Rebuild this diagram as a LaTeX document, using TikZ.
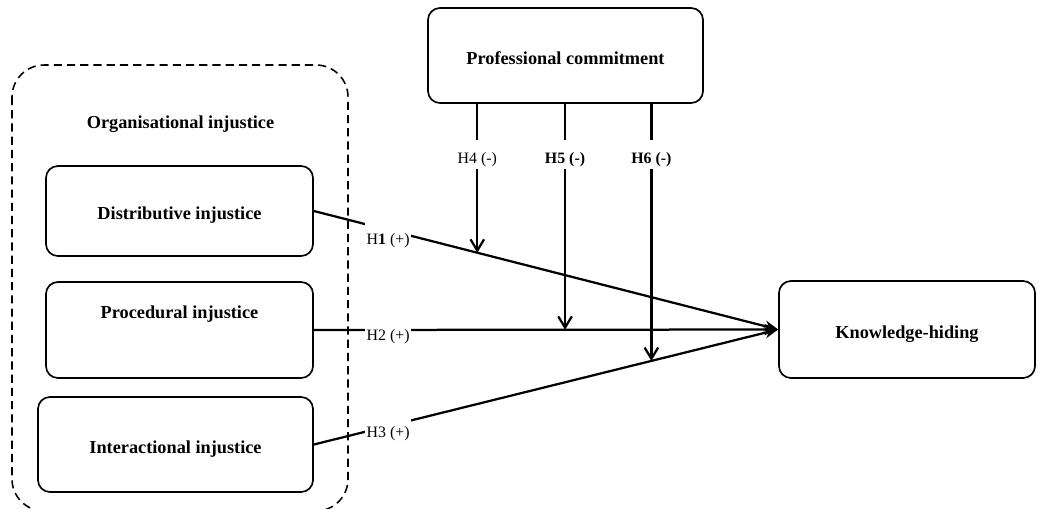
\documentclass[tikz,border=0pt]{standalone}
\usepackage{fontspec}
\setmainfont{Liberation Serif}
\usetikzlibrary{arrows.meta, positioning, calc}

\begin{document}
\begin{tikzpicture}[
    x=0.025cm, y=-0.025cm,
    box/.style={rectangle, rounded corners=0.3cm, draw=black, line width=1.2pt, font=\fontsize{13}{15}\selectfont\bfseries, align=center, text height=16pt, text depth=3.3pt},
    boxtext/.style={font=\fontsize{13}{15}\selectfont\bfseries, text height=16pt, text depth=3.3pt},
    group/.style={draw=black, line width=1.1pt, dash pattern=on 5.8pt off 3.6pt, rounded corners=0.8cm},
    edge/.style={-{Stealth[length=0.34cm, width=0.28cm]}, line width=1.6pt},
    mod/.style={-{Straight Barb[length=0.28cm, width=0.34cm]}, line width=1.6pt},
    lab/.style={fill=white, inner sep=1pt, font=\fontsize{11.3}{13}\selectfont, text height=0.55cm, text depth=0.1cm, anchor=base},
    hyp/.style={lab, yshift=-0.275cm}
]
\clip (0,0) rectangle (1040,508);
% organisational injustice group
\draw[group] (12,65) rectangle (348,511);
\node[boxtext] (org) at (180.5,120) {Organisational injustice};
\node[box, minimum width=6.675cm, minimum height=2.25cm] (dist) at (179.5,211) {Distributive injustice};
\node[box, minimum width=6.675cm, minimum height=2.4cm] (proc) at (179.5,330) {};
\node[boxtext] (proclab) at (179.5,310) {Procedural injustice};
\node[box, minimum width=6.875cm, minimum height=2.375cm] (inter) at (175.5,444.5) {Interactional injustice};
\node[box, minimum width=6.875cm, minimum height=2.375cm] (prof) at (565.5,55.5) {Professional commitment};
\node[box, minimum width=6.4cm, minimum height=2.425cm] (kh) at (907,329.5) {Knowledge-hiding};
% direct effects
\draw[edge] (dist.east) -- node[hyp, pos=0.16, yshift=-0.08cm] {H\textbf{1} (+)} coordinate[pos=0.352] (m1) (kh.west);
\draw[edge] (proc.east) -- node[hyp, pos=0.16] {H2 (+)} coordinate[pos=0.541] (m2) (kh.west);
\draw[edge] (inter.east) -- node[hyp, pos=0.16] {H3 (+)} coordinate[pos=0.727] (m3) (kh.west);
% moderation
\draw[mod] (prof.south -| m1) -- node[lab, pos=0.403] {H4 (-)} (m1);
\draw[mod] (prof.south -| m2) -- node[lab, pos=0.265] {\textbf{H5 (-)}} (m2);
\draw[mod] (prof.south -| m3) -- node[lab, pos=0.233] {\textbf{H6 (-)}} (m3);
\end{tikzpicture}
\end{document}
